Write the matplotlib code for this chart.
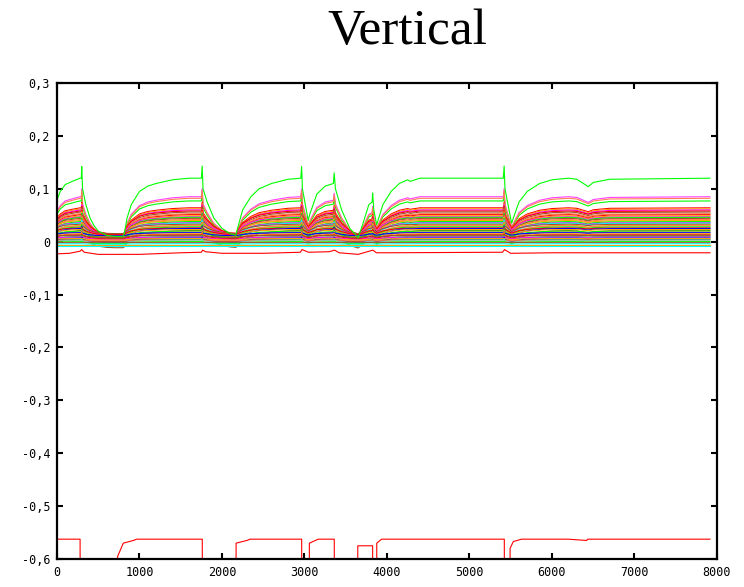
import numpy as np
import matplotlib.pyplot as plt

# gnuplot-ish default line colours
colours = ['#ff0000', '#00ff00', '#0000ff', '#ff00ff', '#00ffff',
           '#a0522d', '#ffa500', '#ff7f50']

# time knots shared by the upper traces
t_knots = [0, 40, 100, 200, 280, 295, 300, 310, 350, 400, 450, 500, 600, 700,
           800, 815, 850, 900, 1000, 1100, 1200, 1400, 1600, 1750, 1760, 1770,
           1820, 1900, 2000, 2100, 2170, 2180, 2250, 2350, 2450, 2600, 2800,
           2955, 2965, 2975, 3045, 3060, 3150, 3250, 3350, 3360, 3375, 3450,
           3550, 3650, 3700, 3780, 3820, 3826, 3840, 3875, 3950, 4050, 4150,
           4250, 4280, 4400, 4600, 5410, 5420, 5430, 5510, 5600, 5700, 5850,
           6000, 6200, 6300, 6440, 6500, 6700, 7915]
green_top = [0.079, 0.095, 0.108, 0.115, 0.12, 0.12, 0.142, 0.10, 0.07, 0.045,
             0.03, 0.02, 0.012, 0.01, 0.01, 0.015, 0.045, 0.07, 0.095, 0.105,
             0.11, 0.117, 0.12, 0.12, 0.143, 0.10, 0.075, 0.045, 0.025, 0.015,
             0.012, 0.02, 0.06, 0.085, 0.10, 0.11, 0.118, 0.12, 0.142, 0.10,
             0.04, 0.05, 0.09, 0.105, 0.11, 0.13, 0.10, 0.06, 0.025, 0.008,
             0.03, 0.07, 0.075, 0.092, 0.06, 0.032, 0.07, 0.095, 0.11, 0.117,
             0.114, 0.12, 0.12, 0.12, 0.143, 0.10, 0.035, 0.075, 0.095, 0.11,
             0.117, 0.12, 0.118, 0.104, 0.112, 0.118, 0.12]
green_rest, green_plateau = 0.008, 0.12

# other traces: level when "on" and level when "off", read at plateaus / dips
trace_on = [0.085, 0.077, 0.082, 0.064, 0.062, 0.060, 0.058, 0.056, 0.053,
            0.051, 0.049, 0.047, 0.046, 0.044, 0.042, 0.040, 0.038, 0.036,
            0.035, 0.033, 0.031, 0.030, 0.028, 0.026, 0.025, 0.023, 0.021,
            0.020, 0.018, 0.017, 0.015, 0.013, 0.012, 0.010, 0.009, 0.007,
            0.006, 0.004, 0.003, 0.001, 0.000, -0.002, -0.004, -0.006, -0.008]
trace_off = [0.010, 0.009, 0.010, 0.012, 0.011, 0.010, 0.014, 0.009, 0.012,
             0.008, 0.011, 0.013, 0.007, 0.010, 0.009, 0.012, 0.006, 0.011,
             0.008, 0.015, 0.005, 0.010, 0.007, 0.013, 0.004, 0.009, -0.012,
             0.006, 0.003, 0.011, 0.002, 0.005, 0.008, 0.001, 0.004, -0.002,
             0.003, 0.000, -0.003, 0.002, -0.004, -0.001, -0.005, -0.006, -0.008]
trace_col = ['#ff40ff', '#00ff00', '#ff7f50', '#ff0000', '#ffa500', '#ff00ff',
             '#ff0000', '#a0522d', '#ff7f50', '#ff0000', '#ffa500', '#ff00ff',
             '#00ff00', '#a0522d', '#ff7f50', '#ffa500', '#00ff00', '#ff00ff',
             '#00ffff', '#a0522d', '#ffa500', '#ff7f50', '#00ff00', '#ff0000',
             '#0000ff', '#ffa500', '#a0522d', '#00ff00', '#ff7f50', '#0000ff',
             '#ffa500', '#ff0000', '#a0522d', '#00ff00', '#ff00ff', '#0000ff',
             '#ffa500', '#a0522d', '#00ffff', '#ff7f50', '#00ff00', '#a0522d',
             '#00ffff', '#ffa500', '#00ffff']

# lowest visible red trace near -0.02
low_t = [0, 150, 280, 300, 330, 500, 1000, 1500, 1750, 1765, 1800, 2000, 2500,
         2950, 2970, 3050, 3300, 3365, 3420, 3650, 3830, 3870, 4000, 5400, 5425,
         5500, 6000, 7915]
low_y = [-0.023, -0.022, -0.018, -0.015, -0.02, -0.024, -0.024, -0.021, -0.02,
         -0.016, -0.019, -0.022, -0.022, -0.02, -0.015, -0.02, -0.019, -0.016,
         -0.021, -0.024, -0.016, -0.021, -0.021, -0.02, -0.015, -0.022, -0.021,
         -0.021]

# red trace that only shows up at the bottom edge (-0.5625 when "on")
bot_t = [0, 280, 281, 731, 735, 804, 925, 966, 1761, 1762, 2170, 2171, 2300,
         2340, 2966, 2967, 3058, 3059, 3167, 3361, 3362, 3645, 3646, 3826, 3827,
         3875, 3876, 3935, 5422, 5423, 5491, 5492, 5531, 5632, 6198, 6421,
         6430, 7915]
bot_y = [-0.5625, -0.5625, -0.7, -0.7, -0.595, -0.57, -0.565, -0.5625,
         -0.5625, -0.7, -0.7, -0.57, -0.565, -0.5625, -0.5625, -0.7, -0.7,
         -0.57, -0.5625, -0.5625, -0.7, -0.7, -0.575, -0.575, -0.7, -0.7,
         -0.57, -0.5625, -0.5625, -0.7, -0.7, -0.58, -0.567, -0.5625, -0.5625,
         -0.565, -0.5625, -0.5625]

t = np.array(t_knots, dtype=float)
g = np.array(green_top)
prof = (g - green_rest) / (green_plateau - green_rest)

fig = plt.figure(figsize=(7.44, 5.87), dpi=100)
ax = fig.add_axes([0.0766, 0.0477, 0.8871, 0.8109])

for on, off, c in zip(trace_on, trace_off, trace_col):
    ax.plot(t, off + (on - off) * prof, color=c, lw=0.8)
ax.plot(t, g, color='#00ff00', lw=0.8)
ax.plot(low_t, low_y, color='#ff0000', lw=0.8)
ax.plot(bot_t, bot_y, color='#ff0000', lw=0.8)

ax.set_xlim(0, 8000)
ax.set_ylim(-0.6, 0.3)
ax.set_xticks(range(0, 8001, 1000))
ax.set_yticks(np.round(np.arange(-0.6, 0.31, 0.1), 1))
ax.set_yticklabels(['-0,6', '-0,5', '-0,4', '-0,3', '-0,2', '-0,1', '0',
                    '0,1', '0,2', '0,3'])
ax.tick_params(direction='in', length=4, width=1.5, top=True, right=True,
               labelsize=8.5, pad=5)
for lab in ax.get_xticklabels() + ax.get_yticklabels():
    lab.set_family('DejaVu Sans Mono')
for s in ax.spines.values():
    s.set_linewidth(1.6)

fig.text(0.548, 0.946, 'Vertical', family='Liberation Serif', fontsize=37,
         ha='center', va='center')

fig.savefig('out.png', dpi=100)
